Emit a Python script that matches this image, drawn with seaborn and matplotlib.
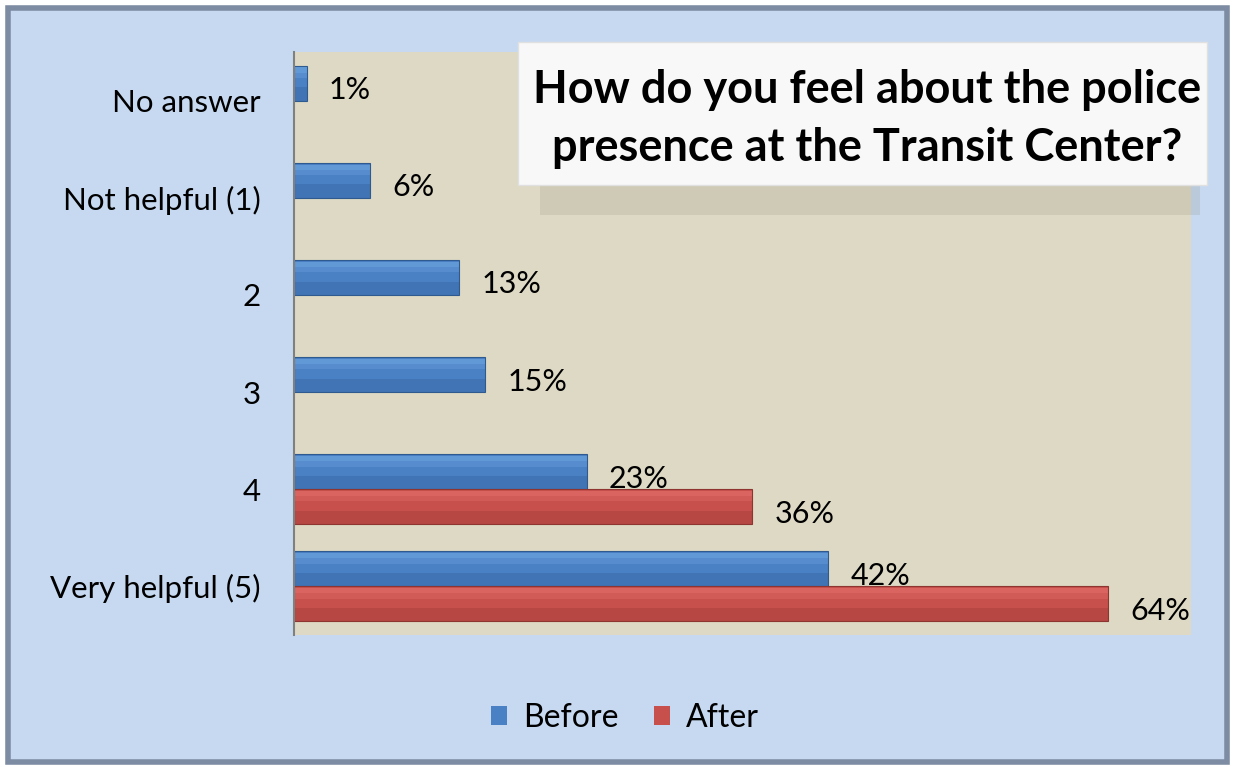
import pandas as pd
import seaborn as sns
import matplotlib.pyplot as plt
from matplotlib.patches import Rectangle

# survey answers, top to bottom
responses = ["No answer", "Not helpful (1)", "2", "3", "4", "Very helpful (5)"]
before_pct = [1, 6, 13, 15, 23, 42]
after_pct = [None, None, None, None, 36, 64]
periods = ["Before", "After"]
title = "How do you feel about the police\npresence at the Transit Center?"

colors = {"Before": "#4a80c4", "After": "#c8504c"}
highlight = {"Before": "#8cc6fa", "After": "#fa8c88"}
shade = {"Before": "#2f5a90", "After": "#8e3431"}

rows = []
for r, b, a in zip(responses, before_pct, after_pct):
    rows.append({"response": r, "period": "Before", "pct": b})
    if a is not None:
        rows.append({"response": r, "period": "After", "pct": a})
df = pd.DataFrame(rows)

plt.rcParams["font.family"] = ["Lato", "DejaVu Sans"]

fig = plt.figure(figsize=(12.33, 7.67), dpi=100, facecolor="white")

# outer chart frame (behind the axes)
fig.patches.append(Rectangle((8 / 1233, 1 - 762 / 767), 1219 / 1233, 754 / 767,
                             transform=fig.transFigure, facecolor="#c6d9f1",
                             edgecolor="#7d8ca3", linewidth=4, zorder=-5))

ax = fig.add_axes([294 / 1233, 1 - 635 / 767, 897 / 1233, 583 / 767])
ax.set_facecolor("#ddd9c4")

sns.barplot(data=df, x="pct", y="response", hue="period", order=responses,
            hue_order=periods, palette=colors, orient="h", width=0.72,
            errorbar=None, ax=ax, edgecolor="none", saturation=1)

# fake the bevel look: lighter band on top, darker band at the bottom
for container, period in zip(ax.containers, periods):
    for p in container:
        p.set_edgecolor(shade[period])
        p.set_linewidth(0.8)
        x, y, w, h = p.get_x(), p.get_y(), p.get_width(), p.get_height()
        z = p.get_zorder() + 0.1
        ax.add_patch(Rectangle((x, y + h * 0.05), w, h * 0.15, facecolor=highlight[period],
                               edgecolor="none", alpha=0.35, zorder=z))
        ax.add_patch(Rectangle((x, y + h * 0.2), w, h * 0.15, facecolor=highlight[period],
                               edgecolor="none", alpha=0.2, zorder=z))
        ax.add_patch(Rectangle((x, y + h * 0.62), w, h * 0.38, facecolor=shade[period],
                               edgecolor="none", alpha=0.3, zorder=z))
    anns = ax.bar_label(container, fmt="{:.0f}%", padding=16, fontsize=22)
    for ann in anns:
        ann.xyann = (ann.xyann[0], -5)

ax.set_xlim(0, 70.5)
ax.set_xlabel("")
ax.set_ylabel("")
ax.set_xticks([])
ax.tick_params(axis="y", length=0, pad=24, labelsize=22.5)
for s in ["top", "right", "bottom"]:
    ax.spines[s].set_visible(False)
ax.spines["left"].set_color("#808080")
ax.spines["left"].set_linewidth(1.5)

sns.move_legend(ax, "center", bbox_to_anchor=(625 / 1233, 1 - 718 / 767),
                bbox_transform=fig.transFigure, ncol=2, frameon=False, title=None,
                fontsize=23, handlelength=0.5, handleheight=0.55,
                handletextpad=0.5, columnspacing=1.1)

# title box with a soft shadow
fig.patches.append(Rectangle((540 / 1233, 1 - 215 / 767), 660 / 1233, 150 / 767,
                             transform=fig.transFigure, facecolor="#8a8a78",
                             edgecolor="none", alpha=0.18, zorder=3))
fig.patches.append(Rectangle((518 / 1233, 1 - 185 / 767), 689 / 1233, 143 / 767,
                             transform=fig.transFigure, facecolor="#f8f8f8",
                             edgecolor="#e0e0e0", linewidth=1, zorder=4))
fig.text(867 / 1233, 1 - 119 / 767, title, ha="center", va="center",
         fontsize=32.5, fontweight="bold", linespacing=1.45, zorder=5)

fig.savefig("out.png", dpi=100, facecolor=fig.get_facecolor())
